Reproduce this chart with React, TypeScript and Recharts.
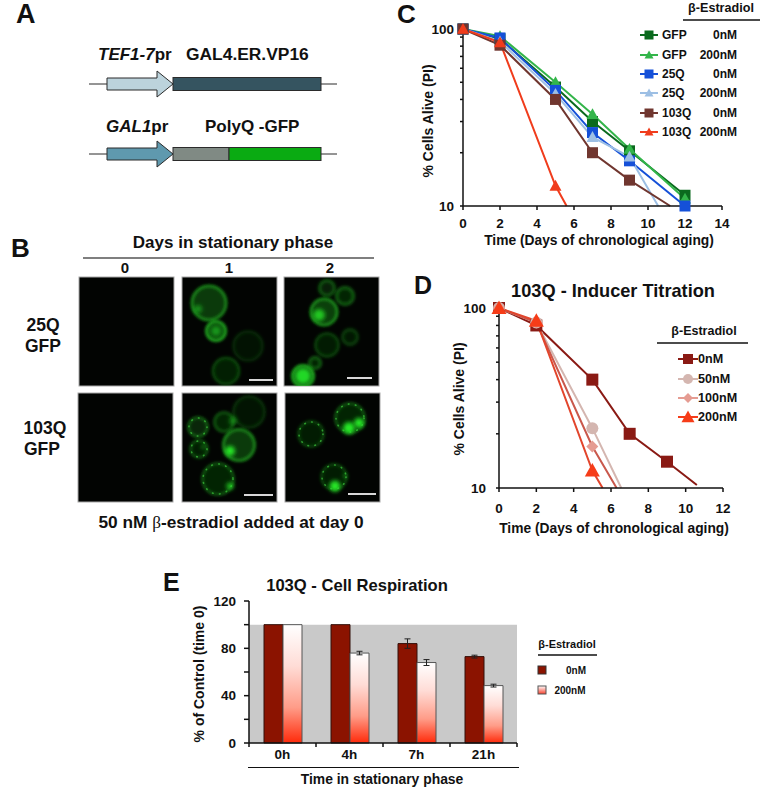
import React from 'react';
import { Bar, BarChart, ErrorBar, Line, LineChart, ReferenceArea, XAxis, YAxis } from 'recharts';

const FONT = '"Liberation Sans", Arial, sans-serif';

// Panel C: survival, a non-integer day is where a line runs off the bottom of the axis
const cGfp0Days = [0, 2, 5, 7, 9, 12];
const cGfp0 = [100, 88, 47, 30, 20.5, 11.5];
const cGfp200Days = [0, 2, 5, 7, 9, 12];
const cGfp200 = [100, 91, 50, 33, 21, 11];
const c25q0Days = [0, 2, 5, 7, 9, 12];
const c25q0 = [100, 89, 45, 26, 18, 10];
const c25q200Days = [0, 2, 5, 7, 9, 10.55];
const c25q200 = [100, 85, 43, 24.5, 19, 10];
const c103q0Days = [0, 2, 5, 7, 9, 11.2];
const c103q0 = [100, 81, 40, 20, 14, 10];
const c103q200Days = [0, 2, 5, 5.6];
const c103q200 = [100, 84, 13, 10];
const cLogTicks = [10, 20, 30, 40, 50, 60, 70, 80, 90, 100];
const cDayTicks = [0, 2, 4, 6, 8, 10, 12, 14];

// Panel D: inducer titration
const d0Days = [0, 2, 5, 7, 9, 10.6];
const d0 = [100, 80, 40, 20, 14, 10.4];
const d50Days = [0, 2, 5, 6.55];
const d50 = [100, 83, 21.5, 10];
const d100Days = [0, 2, 5, 6.3];
const d100 = [100, 83, 17, 10];
const d200Days = [0, 2, 5, 5.55];
const d200 = [100, 85, 12.5, 10];
const dDayTicks = [0, 2, 4, 6, 8, 10, 12];

// Panel E: respiration
const eHours = ['0h', '4h', '7h', '21h'];
const e0nM = [100, 100, 84, 73];
const e200nM = [100, 76, 68, 48.5];
const e0nMErr = [null, null, 4, 1.2];
const e200nMErr = [null, 1.5, 2.5, 1.2];
const eTicks = [0, 20, 40, 60, 80, 100, 120];
const eLabelled = [0, 40, 80, 120];

const toPoints = (days: number[], vals: number[]) => days.map((x, i) => ({ x, y: vals[i] }));

const eData = eHours.map((hour, i) => ({
  hour,
  off: e0nM[i],
  on: e200nM[i],
  offErr: e0nMErr[i],
  onErr: e200nMErr[i],
}));

const cSeries = [
  { name: 'GFP', dose: '0nM', color: '#0b6a1e', shape: 'square', days: cGfp0Days, vals: cGfp0 },
  { name: 'GFP', dose: '200nM', color: '#33b54a', shape: 'triangle', days: cGfp200Days, vals: cGfp200 },
  { name: '25Q', dose: '0nM', color: '#1550d8', shape: 'square', days: c25q0Days, vals: c25q0 },
  { name: '25Q', dose: '200nM', color: '#9dbfe4', shape: 'triangle', days: c25q200Days, vals: c25q200 },
  { name: '103Q', dose: '0nM', color: '#70362f', shape: 'square', days: c103q0Days, vals: c103q0 },
  { name: '103Q', dose: '200nM', color: '#f03c1c', shape: 'triangle', days: c103q200Days, vals: c103q200 },
];

const dSeries = [
  { dose: '0nM', color: '#8a1a14', line: '#8a1a14', shape: 'square', size: 12, days: d0Days, vals: d0 },
  { dose: '50nM', color: '#d4b6b0', line: '#d4b6b0', shape: 'circle', size: 12, days: d50Days, vals: d50 },
  { dose: '100nM', color: '#e59c92', line: '#c9584c', shape: 'diamond', size: 12, days: d100Days, vals: d100 },
  { dose: '200nM', color: '#f63c18', line: '#e2452c', shape: 'triangle', size: 15, days: d200Days, vals: d200 },
];

const Marker = ({ shape, cx, cy, size, fill }: any) => {
  const h = size / 2;
  if (shape === 'square') return <rect x={cx - h} y={cy - h} width={size} height={size} fill={fill} />;
  if (shape === 'circle') return <circle cx={cx} cy={cy} r={h} fill={fill} />;
  if (shape === 'diamond') {
    return <polygon points={`${cx},${cy - h} ${cx + h},${cy} ${cx},${cy + h} ${cx - h},${cy}`} fill={fill} />;
  }
  return <polygon points={`${cx},${cy - h} ${cx + h},${cy + h * 0.8} ${cx - h},${cy + h * 0.8}`} fill={fill} />;
};

// only the measured days carry a marker
const dotFor = (shape: string, size: number, fill: string) => (p: any) =>
  Number.isInteger(p.payload.x) ? (
    <Marker key={p.index} shape={shape} cx={p.cx} cy={p.cy} size={size} fill={fill} />
  ) : (
    <g key={p.index} />
  );

const tickStyle = { fill: '#111', fontSize: 13.5, fontWeight: 700, fontFamily: FONT };
const axisStroke = { stroke: '#111', strokeWidth: 1.5 };
const showEnds = (v: number) => (v === 10 || v === 100 ? String(v) : '');

const EHourTick = ({ x, y, payload, index }: any) => (
  <g>
    <line x1={x - 33.5} x2={x - 33.5} y1={y - 8} y2={y - 4} stroke="#111" strokeWidth={1.5} />
    {index === eHours.length - 1 && <line x1={x + 33.5} x2={x + 33.5} y1={y - 8} y2={y - 4} stroke="#111" strokeWidth={1.5} />}
    <text x={x} y={y + 8} textAnchor="middle" {...tickStyle}>{payload.value}</text>
  </g>
);

// fluorescence panels: [cx, cy, r, brightness, speckled]
const cells = [
  [209, 303, 17.5, 0.8, 0], [216, 331, 10, 1, 0], [248, 346, 15, 0.2, 0], [226, 371, 13.5, 0.38, 0],
  [327, 288, 8, 0.4, 0], [345, 296, 9, 0.45, 0], [324, 312, 13.5, 0.85, 0], [327, 345, 12, 0.34, 0],
  [350, 337, 8, 0.28, 0], [315, 363, 6, 0.45, 0], [303, 376, 11, 1, 0],
  [198, 427, 10, 0.5, 1], [224, 422, 10, 0.45, 0], [249, 412, 16, 0.24, 0], [199, 449, 9, 0.35, 1],
  [239, 445, 16, 0.8, 0], [218, 479, 16, 0.45, 1],
  [311, 434, 13, 0.35, 1], [350, 418, 15, 0.45, 1], [334, 477, 13, 0.35, 1],
];
const hotSpots = [
  [198, 309, 4, 0.5], [319, 315, 6, 0.8], [303, 376, 8, 0.9], [216, 331, 5, 0.5],
  [230, 451, 5, 1], [230, 486, 3.5, 0.8], [233, 421, 4, 0.4], [203, 447, 2, 0.6],
  [349, 428, 6, 1], [359, 423, 5, 1], [335, 486, 5.5, 1], [345, 476, 2, 0.6],
];
const panels = [
  [79, 277, 95, 109], [182, 277, 95, 109], [284, 277, 95, 109],
  [78, 393, 95, 109], [182, 393, 95, 109], [285, 393, 95, 109],
];
const scaleBars = [[249, 273, 380], [347, 372, 378], [244, 273, 495], [348, 376, 494]];

const Micrographs = () => (
  <g>
    <defs>
      <filter id="soft" x="-40%" y="-40%" width="180%" height="180%"><feGaussianBlur stdDeviation="1.6" /></filter>
      <filter id="speck" x="-30%" y="-30%" width="160%" height="160%"><feGaussianBlur stdDeviation="0.6" /></filter>
      <filter id="hot" x="-100%" y="-100%" width="300%" height="300%"><feGaussianBlur stdDeviation="2" /></filter>
      <clipPath id="panelClip">
        {panels.map(([x, y, w, h], i) => <rect key={i} x={x} y={y} width={w} height={h} />)}
      </clipPath>
    </defs>
    {panels.map(([x, y, w, h], i) => (
      <rect key={i} x={x} y={y} width={w} height={h} fill="#020402" stroke="#a8a8a8" strokeWidth={1} />
    ))}
    <g clipPath="url(#panelClip)">
      {cells.map(([cx, cy, r, b, speckled], i) => (
        <g key={i}>
          <circle cx={cx} cy={cy} r={r} fill="#1a9c1a" fillOpacity={b * 0.45} filter="url(#soft)" />
          <circle cx={cx} cy={cy} r={r - 0.5} fill="none" stroke="#22b822" strokeOpacity={b * 0.9} strokeWidth={r > 9 ? 2.6 : 3.4} filter="url(#soft)" />
          {speckled ? (
            <circle cx={cx} cy={cy} r={r - 1} fill="none" stroke="#46e046" strokeOpacity={0.6} strokeWidth={1.6} strokeLinecap="round" strokeDasharray="0.6 6.5" filter="url(#speck)" />
          ) : null}
        </g>
      ))}
      {hotSpots.map(([cx, cy, r, b], i) => (
        <circle key={i} cx={cx} cy={cy} r={r} fill="#25e828" fillOpacity={b} filter="url(#hot)" />
      ))}
    </g>
    {scaleBars.map(([x1, x2, y], i) => <line key={i} x1={x1} x2={x2} y1={y} y2={y} stroke="#d8d8d8" strokeWidth={2} />)}
  </g>
);

const Construct = ({ y, arrowFill, children }: any) => (
  <g stroke="#2b2b2b" strokeWidth={1}>
    <line x1={89} x2={107} y1={y} y2={y} />
    <line x1={321} x2={337} y1={y} y2={y} />
    <polygon
      points={`107,${y - 6} 157,${y - 6} 157,${y - 13} 173,${y} 157,${y + 13} 157,${y + 6} 107,${y + 6}`}
      fill={arrowFill}
    />
    {children}
  </g>
);

const Title = (props: any) => <text fontFamily={FONT} fontWeight={700} fill="#111" {...props} />;

const Overlay = () => (
  <svg width={762} height={789} style={{ position: 'absolute', left: 0, top: 0, pointerEvents: 'none' }}>
    <Title x={16} y={23} fontSize={27}>A</Title>
    <Title x={11} y={257} fontSize={26}>B</Title>
    <Title x={397} y={23} fontSize={26}>C</Title>
    <Title x={414} y={294} fontSize={25}>D</Title>
    <Title x={163} y={591} fontSize={25}>E</Title>

    <Title x={98} y={60} fontSize={17}><tspan fontStyle="italic">TEF1-7</tspan>pr</Title>
    <Title x={186} y={60} fontSize={17.4}>GAL4.ER.VP16</Title>
    <Title x={106} y={132} fontSize={17}><tspan fontStyle="italic">GAL1</tspan>pr</Title>
    <Title x={205} y={132} fontSize={17}>PolyQ -GFP</Title>
    <Construct y={84} arrowFill="#bcd3dc">
      <rect x={173} y={77.5} width={148} height={13} fill="#355460" />
    </Construct>
    <Construct y={154} arrowFill="#5f99ae">
      <rect x={173} y={147.5} width={56} height={13} fill="#808a84" />
      <rect x={229} y={147.5} width={92} height={13} fill="#0aab12" />
    </Construct>

    <Title x={233} y={248} fontSize={17} textAnchor="middle">Days in stationary phase</Title>
    <line x1={83} x2={374} y1={258} y2={258} stroke="#555" strokeWidth={1.5} />
    <Title x={125} y={273} fontSize={15} textAnchor="middle">0</Title>
    <Title x={229} y={273} fontSize={15} textAnchor="middle">1</Title>
    <Title x={330} y={273} fontSize={15} textAnchor="middle">2</Title>
    <Title x={43} y={331} fontSize={17.5} textAnchor="middle">25Q</Title>
    <Title x={43} y={352} fontSize={17.5} textAnchor="middle">GFP</Title>
    <Title x={45} y={434} fontSize={17.5} textAnchor="middle">103Q</Title>
    <Title x={42} y={455} fontSize={17.5} textAnchor="middle">GFP</Title>
    <Micrographs />
    <Title x={231} y={528} fontSize={17.3} textAnchor="middle">
      50 nM <tspan fontFamily='"Liberation Serif", serif' fontWeight={400}>β</tspan>-estradiol added at day 0
    </Title>

    {/* panel C text and legend */}
    <Title x={599} y={245} fontSize={13.8} textAnchor="middle">Time (Days of chronological aging)</Title>
    <Title transform="translate(433,121) rotate(-90)" fontSize={14} textAnchor="middle">% Cells Alive (PI)</Title>
    <Title x={721} y={12} fontSize={12.6} textAnchor="middle">β-Estradiol</Title>
    <line x1={683} x2={760} y1={20} y2={20} stroke="#111" strokeWidth={1.5} />
    {cSeries.map((s, i) => {
      const y = [35, 55, 74, 93, 113, 132][i];
      return (
        <g key={i}>
          <line x1={640} x2={658} y1={y} y2={y} stroke={s.color} strokeWidth={2} />
          <Marker shape={s.shape} cx={649} cy={y} size={9} fill={s.color} />
          <Title x={662} y={y + 4} fontSize={12}>{s.name}</Title>
          <Title x={737} y={y + 4} fontSize={12} textAnchor="end">{s.dose}</Title>
        </g>
      );
    })}

    {/* panel D text and legend */}
    <Title x={613} y={297} fontSize={18.2} textAnchor="middle">103Q - Inducer Titration</Title>
    <Title x={614} y={533} fontSize={13.8} textAnchor="middle">Time (Days of chronological aging)</Title>
    <Title transform="translate(464,399) rotate(-90)" fontSize={14} textAnchor="middle">% Cells Alive (PI)</Title>
    <Title x={704} y={335} fontSize={12.5} textAnchor="middle">β-Estradiol</Title>
    <line x1={657} x2={748} y1={343} y2={343} stroke="#111" strokeWidth={1.5} />
    {dSeries.map((s, i) => {
      const y = [359, 379, 398, 417][i];
      return (
        <g key={i}>
          <line x1={678} x2={698} y1={y} y2={y} stroke={s.color} strokeWidth={2} />
          <Marker shape={s.shape} cx={688} cy={y} size={s.size - 2} fill={s.color} />
          <Title x={698} y={y + 4} fontSize={12.6}>{s.dose}</Title>
        </g>
      );
    })}

    {/* panel E text and legend */}
    <Title x={357} y={591} fontSize={16.6} textAnchor="middle">103Q - Cell Respiration</Title>
    <Title transform="translate(204,674) rotate(-90)" fontSize={14} textAnchor="middle">% of Control (time 0)</Title>
    <line x1={248} x2={519} y1={767.5} y2={767.5} stroke="#111" strokeWidth={1} />
    <Title x={382} y={784} fontSize={13.9} textAnchor="middle">Time in stationary phase</Title>
    <Title x={567} y={648} fontSize={11} textAnchor="middle">β-Estradiol</Title>
    <line x1={538} x2={597} y1={655} y2={655} stroke="#111" strokeWidth={1.5} />
    <rect x={538} y={666} width={8} height={8} fill="#8b1300" stroke="#333" />
    <Title x={576} y={673.5} fontSize={10} textAnchor="middle">0nM</Title>
    <rect x={538} y={686} width={8} height={8} fill="url(#legendFade)" stroke="#555" />
    <defs>
      <linearGradient id="legendFade" x1="0" y1="0" x2="0" y2="1">
        <stop offset="0%" stopColor="#ffffff" />
        <stop offset="100%" stopColor="#f8402c" />
      </linearGradient>
    </defs>
    <Title x={570} y={693.5} fontSize={10} textAnchor="middle">200nM</Title>
  </svg>
);

export default function App() {
  return (
    <div style={{ position: 'absolute', left: 0, top: 0, width: 762, height: 789, background: '#fff', overflow: 'hidden' }}>
      <div style={{ position: 'absolute', left: 400, top: 0 }}>
        <LineChart width={362} height={260} margin={{ top: 29, right: 40, bottom: 0, left: 0 }}>
          <XAxis dataKey="x" type="number" domain={[0, 14]} ticks={cDayTicks} interval={0} height={54} tickSize={4} tickMargin={8} tick={tickStyle} axisLine={axisStroke} tickLine={axisStroke} />
          <YAxis scale="log" type="number" domain={[10, 100]} ticks={cLogTicks} interval={0} width={63} tickSize={3} tickMargin={6} tickFormatter={showEnds} tick={tickStyle} axisLine={axisStroke} tickLine={axisStroke} />
          {cSeries.map((s, i) => (
            <Line
              key={i}
              data={toPoints(s.days, s.vals)}
              dataKey="y"
              name={`${s.name} ${s.dose}`}
              stroke={s.color}
              strokeWidth={2}
              dot={dotFor(s.shape, s.shape === 'square' ? 11 : 12, s.color)}
              isAnimationActive={false}
            />
          ))}
        </LineChart>
      </div>

      <div style={{ position: 'absolute', left: 400, top: 270 }}>
        <LineChart width={362} height={270} margin={{ top: 38, right: 39, bottom: 0, left: 0 }}>
          <XAxis dataKey="x" type="number" domain={[0, 12]} ticks={dDayTicks} interval={0} height={52} tickSize={4} tickMargin={11} tick={tickStyle} axisLine={axisStroke} tickLine={axisStroke} />
          <YAxis scale="log" type="number" domain={[10, 100]} ticks={cLogTicks} interval={0} width={99} tickSize={3} tickMargin={10} tickFormatter={showEnds} tick={tickStyle} axisLine={axisStroke} tickLine={axisStroke} />
          {dSeries.map((s, i) => (
            <Line
              key={i}
              data={toPoints(s.days, s.vals)}
              dataKey="y"
              name={s.dose}
              stroke={s.line}
              strokeWidth={2}
              dot={dotFor(s.shape, s.size, s.color)}
              isAnimationActive={false}
            />
          ))}
        </LineChart>
      </div>

      <div style={{ position: 'absolute', left: 170, top: 570 }}>
        <BarChart width={370} height={210} data={eData} margin={{ top: 31, right: 23, bottom: 0, left: 0 }} barSize={19} barGap={0}>
          <defs>
            <linearGradient id="fade" x1="0" y1="0" x2="0" y2="1">
              <stop offset="0%" stopColor="#ffffff" />
              <stop offset="35%" stopColor="#ffdcd6" />
              <stop offset="70%" stopColor="#ff9c88" />
              <stop offset="100%" stopColor="#ff2a0a" />
            </linearGradient>
          </defs>
          <XAxis dataKey="hour" height={37} tickLine={false} tick={<EHourTick />} axisLine={axisStroke} />
          <YAxis type="number" domain={[0, 120]} ticks={eTicks} interval={0} width={79} tickSize={5} tickMargin={8} tickFormatter={(v: number) => (eLabelled.includes(v) ? String(v) : '')} tick={tickStyle} axisLine={axisStroke} tickLine={axisStroke} />
          <ReferenceArea y1={0} y2={100} fill="#c9c9c9" fillOpacity={1} stroke="none" />
          <Bar dataKey="off" name="0nM" fill="#8b1300" stroke="#33100a" strokeWidth={1} isAnimationActive={false}>
            <ErrorBar dataKey="offErr" width={3} stroke="#222" strokeWidth={1} />
          </Bar>
          <Bar dataKey="on" name="200nM" fill="url(#fade)" stroke="#555" strokeWidth={1} isAnimationActive={false}>
            <ErrorBar dataKey="onErr" width={3} stroke="#222" strokeWidth={1} />
          </Bar>
        </BarChart>
      </div>

      <Overlay />
    </div>
  );
}
